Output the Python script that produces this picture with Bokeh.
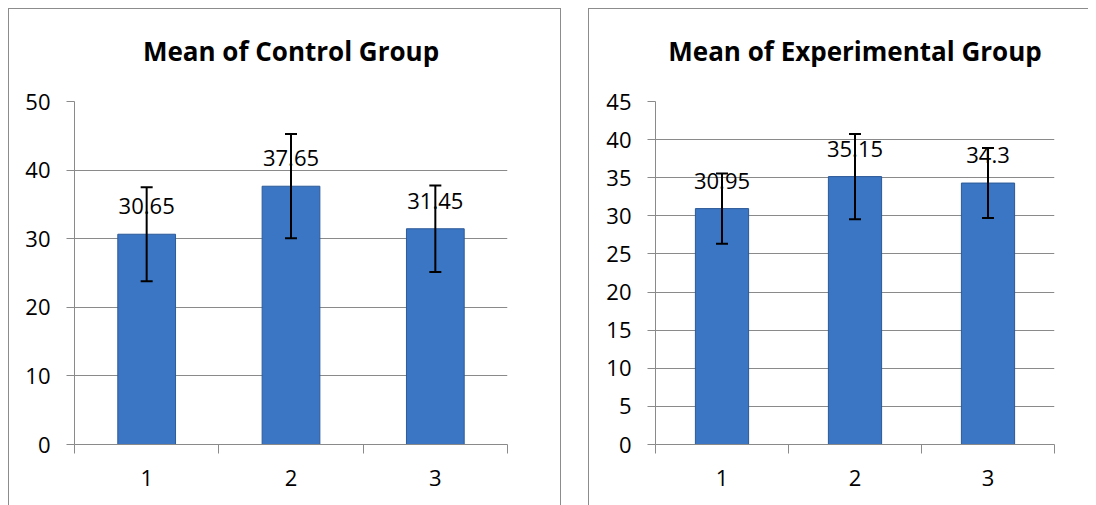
from bokeh.plotting import figure
from bokeh.models import ColumnDataSource, FixedTicker, Whisker, TeeHead, Range1d, Title
from bokeh.layouts import row
from bokeh.core.properties import value
from bokeh.embed import file_html
from bokeh.resources import INLINE

# ---- data ----
groups = [1, 2, 3]
group_labels = ["1", "2", "3"]

control_title = "Mean of Control Group"
control_means = [30.65, 37.65, 31.45]
control_upper = [37.5, 45.25, 37.75]
control_lower = [23.8, 30.05, 25.15]
control_ticks = [0, 10, 20, 30, 40, 50]

exp_title = "Mean of Experimental Group"
exp_means = [30.95, 35.15, 34.3]
exp_upper = [35.55, 40.75, 38.9]
exp_lower = [26.35, 29.55, 29.7]
exp_ticks = [0, 5, 10, 15, 20, 25, 30, 35, 40, 45]

FONT = "Open Sans"
GRID = "#8a8a8a"
HEIGHT = 497
MB_TOP = 92
MB_BOTTOM = 62


def make_chart(title, means, upper, lower, ticks, width, mb_left, mb_right, border_css):
    src = ColumnDataSource(dict(
        x=groups, top=means, upper=upper, lower=lower,
        label=[f"{m:g}" for m in means],
    ))
    p = figure(width=width, height=HEIGHT, output_backend="svg", toolbar_location=None,
               x_range=Range1d(0.5, 3.5), y_range=Range1d(ticks[0], ticks[-1]),
               min_border_left=mb_left, min_border_right=mb_right,
               min_border_top=MB_TOP, min_border_bottom=MB_BOTTOM)
    p.title.text = title
    p.title.align = "center"
    p.title.vertical_align = "top"
    p.title.text_font = FONT
    p.title.text_font_size = "26px"
    p.title.text_font_style = "bold"
    p.title.text_color = "black"
    p.title.offset = -19
    p.title.standoff = 38
    # small empty spacer panel between the title and the plot frame
    p.above.insert(0, Title(text=" ", text_font_size="9px", standoff=0))
    p.outline_line_color = None
    p.background_fill_color = "white"
    p.border_fill_color = "white"
    p.styles = border_css

    p.vbar(x="x", top="top", bottom=0, width=0.4, source=src,
           fill_color="#3b76c4", line_color="#2c5a98", line_width=1)

    w = Whisker(base="x", upper="upper", lower="lower", source=src, level="overlay",
                line_color="black", line_width=2,
                upper_head=TeeHead(size=12, line_color="black", line_width=2),
                lower_head=TeeHead(size=12, line_color="black", line_width=2))
    p.add_layout(w)

    p.text(x="x", y="top", text="label", source=src, text_align="center",
           text_baseline="bottom", y_offset=-20, text_font=value(FONT),
           text_font_size="22px", text_color="black")

    # axes
    p.xaxis.ticker = FixedTicker(ticks=groups, minor_ticks=[0.5, 1.5, 2.5, 3.5])
    p.xaxis.major_label_overrides = {g: l for g, l in zip(groups, group_labels)}
    p.xaxis.major_tick_line_color = None
    p.xaxis.minor_tick_line_color = GRID
    p.xaxis.minor_tick_in = 0
    p.xaxis.minor_tick_out = 9
    p.xaxis.axis_line_color = GRID
    p.xaxis.major_label_standoff = 16
    p.xaxis.major_label_text_font = FONT
    p.xaxis.major_label_text_font_size = "22px"
    p.xaxis.major_label_text_color = "black"

    p.yaxis.ticker = FixedTicker(ticks=ticks)
    p.yaxis.major_tick_in = 0
    p.yaxis.major_tick_out = 8
    p.yaxis.major_tick_line_color = GRID
    p.yaxis.minor_tick_line_color = None
    p.yaxis.axis_line_color = GRID
    p.yaxis.major_label_standoff = 16
    p.yaxis.major_label_text_font = FONT
    p.yaxis.major_label_text_font_size = "22px"
    p.yaxis.major_label_text_color = "black"

    p.xgrid.grid_line_color = None
    p.ygrid.grid_line_color = GRID
    p.ygrid.grid_line_width = 1
    return p


p1 = make_chart(control_title, control_means, control_upper, control_lower, control_ticks,
                553, 65, 55,
                {"border-top": "1px solid #8c8c8c", "border-left": "1px solid #8c8c8c",
                 "border-right": "1px solid #8c8c8c", "box-sizing": "border-box"})
p2 = make_chart(exp_title, exp_means, exp_upper, exp_lower, exp_ticks,
                500, 66, 35,
                {"border-top": "1px solid #8c8c8c", "border-left": "1px solid #8c8c8c",
                 "box-sizing": "border-box"})

layout = row(p1, p2, spacing=27, margin=(8, 0, 0, 8))
open("out.html", "w").write(file_html(layout, INLINE))
